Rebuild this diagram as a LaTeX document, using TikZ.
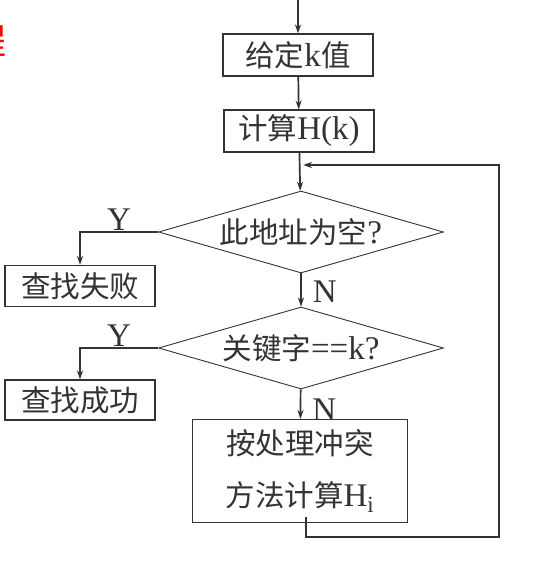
\documentclass[tikz,border=0pt]{standalone}
\usepackage{fontspec}
\setmainfont{Liberation Serif}[Scale = 1.12]
\newfontfamily\cjk{Noto Sans CJK SC}
\usepackage{tikz}
\usetikzlibrary{positioning,shapes.geometric,arrows.meta,calc}

\definecolor{ink}{HTML}{333333}
\newcommand{\bigtext}{\fontsize{29.5}{34}\selectfont}

\tikzset{
	box/.style = {draw = ink, line width = 1.1pt, inner sep = 0pt, text = ink, font = \bigtext},
	test/.style = {diamond, draw = ink, line width = 0.9pt, aspect = 3.5, inner sep = 0pt,
		minimum width = 285pt, minimum height = 82pt, text = ink, font = \bigtext},
	flow/.style = {draw = ink, line width = 1.7pt, -{Stealth[length = 9pt, width = 6pt]}},
	tag/.style = {text = ink, font = \bigtext, inner sep = 1pt}
}

\begin{document}
\begin{tikzpicture}[x = 1pt, y = -1pt]

\useasboundingbox (0, 0) rectangle (538, 561);

\node[anchor = east, inner sep = 0pt, text = red, font = \fontsize{36}{40}\selectfont] (title) at (7, 41) {\cjk 程};

\node[box, minimum width = 150pt, minimum height = 42pt] (given) at (298, 55) {{\cjk 给定}k{\cjk 值}};
\node[box, minimum width = 150pt, minimum height = 42pt] (hash) at (299, 131) {{\cjk 计算}H(k)};

\node[test] (empty) at (301, 232) {{\cjk 此地址为空}?};
\node[test] (match) at (301, 348) {{\cjk 关键字}==k?};

\node[box, minimum width = 150pt, minimum height = 41pt] (fail) at (80, 286) {\cjk 查找失败};
\node[box, minimum width = 150pt, minimum height = 40pt] (found) at (80, 400) {\cjk 查找成功};

\node[box, minimum width = 215pt, minimum height = 103pt, align = center,
	font = \fontsize{29.5}{52}\selectfont] (probe) at (300, 471) {{\cjk 按处理冲突}\\{\cjk 方法计算}H$_\mathrm{i}$};

\coordinate (enter) at (298, 0);
\coordinate (corner) at (499, 537);
\coordinate (rejoin) at (303, 165);

\draw[flow] (enter) -- (given);
\draw[flow] (given) -- (hash);
\draw[flow] (hash) -- (empty);
\draw[flow] (empty) -- node[tag, right, xshift = 10pt, pos = 0.55] {N} (match);
\draw[flow] (match) -- node[tag, right, xshift = 10pt, pos = 0.7] {N} (probe);

\draw[flow] (empty.west) -| node[tag, above, pos = 0.25] {Y} (fail.north);
\draw[flow] (match.west) -| node[tag, above, pos = 0.25] {Y} (found.north);

\draw[flow] ($(probe.south) + (6, -6)$) |- (corner) |- (rejoin);

\end{tikzpicture}
\end{document}
